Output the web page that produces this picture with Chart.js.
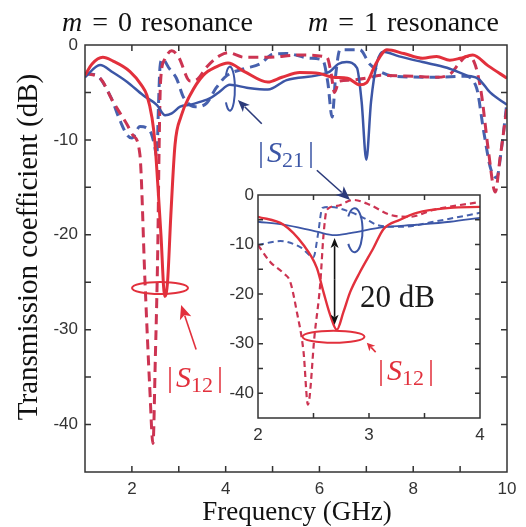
<!DOCTYPE html>
<html>
<head>
<meta charset="utf-8">
<script src="https://cdn.jsdelivr.net/npm/chart.js@4.4.0/dist/chart.umd.min.js"></script>
<style>
html, body { margin:0; padding:0; background:#fff; }
#wrap { position:relative; width:526px; height:527px; }
#mainChart { position:absolute; left:0; top:0; }
#insetChart { position:absolute; left:215px; top:160px; }
</style>
</head>
<body>
<div id="wrap">
  <canvas id="mainChart" width="526" height="527"></canvas>
  <canvas id="insetChart" width="280" height="290"></canvas>
</div>
<script>
// main plot data (1 ~ 10 GHz)
const s12SolidFreq = [1.0, 1.15, 1.38, 1.6, 1.96, 2.2, 2.32, 2.43, 2.49, 2.55, 2.62, 2.7, 2.76, 2.83, 2.92, 3.05, 3.24, 3.52, 3.8, 4.05, 4.4, 4.9, 5.2, 5.58, 6.0, 6.29, 6.6, 6.86, 7.0, 7.2, 7.44, 7.8, 8.2, 8.5, 8.78, 9.0, 9.27, 9.6, 10.0];
const s12SolidDb   = [-3.2, -2.0, -1.3, -1.7, -2.8, -4.2, -5.3, -7.7, -10.2, -14.5, -20, -26.5, -25, -18, -10.5, -7.5, -5.3, -3.2, -2.3, -1.9, -2.8, -3.9, -3.4, -2.9, -3.0, -3.4, -3.5, -4.2, -4.0, -2.0, -0.5, -0.9, -1.4, -1.2, -1.6, -1.4, -1.05, -2.2, -3.5];

const s21SolidFreq = [1.0, 1.32, 1.6, 1.9, 2.24, 2.53, 2.71, 2.85, 3.03, 3.25, 3.45, 3.67, 3.85, 4.09, 4.45, 4.9, 5.3, 5.95, 6.22, 6.4, 6.58, 6.8, 6.9, 7.0, 7.1, 7.23, 7.36, 7.7, 8.2, 8.72, 9.14, 9.4, 9.64, 10.0];
const s21SolidDb   = [-3.4, -2.1, -2.9, -3.9, -5.3, -6.3, -7.4, -7.2, -6.5, -6.3, -6.0, -5.6, -5.0, -4.2, -4.5, -4.7, -3.7, -3.2, -2.8, -2.0, -1.8, -2.4, -6.0, -12.1, -6.0, -1.8, -0.7, -1.2, -1.8, -2.4, -3.2, -3.6, -5.0, -6.3];

const s12DashFreq = [1.0, 1.32, 1.6, 1.9, 2.02, 2.17, 2.28, 2.38, 2.45, 2.5, 2.55, 2.58, 2.61, 2.7, 2.85, 3.0, 3.24, 3.4, 3.6, 3.88, 4.05, 4.4, 4.88, 5.58, 6.16, 6.25, 6.32, 6.42, 6.65, 7.0, 7.3, 8.0, 8.5, 8.8, 9.0, 9.14, 9.3, 9.45, 9.6, 9.75, 9.85, 10.0];
const s12DashDb   = [-3.0, -3.5, -6.0, -8.4, -9.5, -11.5, -25, -36, -42, -33, -22, -11, -4, -1.5, -0.6, -1.3, -3.8, -3.6, -2.3, -1.1, -0.8, -1.3, -1.3, -1.05, -1.3, -3.0, -5.0, -3.8, -3.7, -3.5, -3.2, -3.3, -3.4, -3.0, -1.8, -1.2, -1.8, -5.0, -11, -15.5, -12, -6.5];

const s21DashFreq = [1.0, 1.25, 1.55, 1.75, 1.9, 2.0, 2.17, 2.38, 2.48, 2.53, 2.57, 2.6, 2.65, 2.8, 2.95, 3.1, 3.35, 3.6, 3.8, 4.03, 4.4, 4.73, 5.0, 5.3, 5.8, 6.07, 6.18, 6.27, 6.35, 6.44, 6.86, 7.07, 7.29, 7.6, 8.5, 9.1, 9.35, 9.5, 9.65, 9.78, 9.88, 10.0];
const s21DashDb   = [-3.0, -3.2, -5.5, -8.0, -9.5, -9.8, -8.6, -9.0, -10.5, -11.8, -6, -2.3, -1.5, -2.5, -3.5, -5.5, -6.5, -6.1, -4.5, -3.2, -2.5, -2.0, -1.0, -0.9, -1.4, -1.6, -4.0, -7.6, -3.0, -0.5, -0.5, -2.0, -2.8, -3.3, -3.4, -3.3, -4.5, -9.0, -13, -14, -11, -6.0];

// inset data (2 ~ 4 GHz)
const insetS12SolidFreq = [2.0, 2.23, 2.41, 2.53, 2.59, 2.65, 2.71, 2.77, 2.83, 2.92, 3.04, 3.13, 3.28, 3.43, 3.73, 4.0];
const insetS12SolidDb   = [-4.4, -6.0, -10.1, -14.7, -19.6, -24.2, -27.2, -23.6, -19.6, -15.5, -10.7, -6.9, -5.0, -3.6, -2.6, -2.4];
const insetS21SolidFreq = [2.0, 2.23, 2.53, 2.69, 2.83, 3.13, 3.43, 3.73, 4.0];
const insetS21SolidDb   = [-5.4, -6.0, -7.4, -8.1, -7.7, -6.5, -6.0, -5.4, -4.6];
const insetS12DashFreq = [2.0, 2.11, 2.23, 2.29, 2.35, 2.41, 2.45, 2.51, 2.56, 2.59, 2.62, 2.71, 2.86, 3.01, 3.19, 3.37, 3.58, 4.0];
const insetS12DashDb   = [-10.1, -13.5, -15.8, -17.5, -23.6, -31.6, -42.3, -28.2, -18.1, -8.1, -3.0, -2.2, -1.0, -2.0, -4.0, -4.4, -3.0, -1.4];
const insetS21DashFreq = [2.0, 2.2, 2.38, 2.5, 2.54, 2.58, 2.65, 2.83, 2.95, 3.1, 3.3, 3.58, 4.0];
const insetS21DashDb   = [-10.1, -9.3, -10.5, -12.5, -8, -2.6, -2.4, -3.4, -4.6, -6.2, -6.4, -5.4, -3.6];

// axis ranges
const mainFreqRange = [1, 10];
const insetFreqRange = [2, 4];
const dbRange = [-45, 0];

const RED = '#e2303c';
const RED_DASH = '#cc3452';
const BLUE = '#3c56a6';
const BLUE_DASH = '#4761ae';
const AXIS = '#333';
const SERIF = "'Liberation Serif', 'Times New Roman', serif";
const SANS = "'Liberation Sans', Arial, sans-serif";

function toXY(fs, ds) {
    return fs.map(function(f, i) { return {x: f, y: ds[i]}; });
}

function lineSet(fs, ds, color, width, dash) {
    return {
        data: toXY(fs, ds),
        borderColor: color,
        borderWidth: width,
        borderDash: dash || [],
        pointRadius: 0,
        fill: false,
        cubicInterpolationMode: 'monotone'
    };
}

/**
 * frame + inward ticks
 */
const frameTicks = {
    id: 'frameTicks',
    afterDatasetsDraw(chart, args, opts) {
        const ctx = chart.ctx;
        const a = chart.chartArea;
        const x = chart.scales.x, y = chart.scales.y;
        const len = opts.len;
        ctx.save();
        ctx.strokeStyle = AXIS;
        ctx.lineWidth = 1.5;
        ctx.beginPath();
        x.ticks.forEach(function(t) {
            if (t.value <= x.min || t.value >= x.max) return;
            const px = x.getPixelForValue(t.value);
            ctx.moveTo(px, a.bottom); ctx.lineTo(px, a.bottom - len);
            ctx.moveTo(px, a.top); ctx.lineTo(px, a.top + len);
        });
        y.ticks.forEach(function(t) {
            if (t.value <= y.min || t.value >= y.max) return;
            const py = y.getPixelForValue(t.value);
            ctx.moveTo(a.left, py); ctx.lineTo(a.left + len, py);
            ctx.moveTo(a.right, py); ctx.lineTo(a.right - len, py);
        });
        ctx.stroke();
        ctx.strokeRect(a.left, a.top, a.right - a.left, a.bottom - a.top);
        ctx.restore();
    }
};

function arrow(ctx, x1, y1, x2, y2, color, hl, hw) {
    const ang = Math.atan2(y2 - y1, x2 - x1);
    ctx.save();
    ctx.strokeStyle = color; ctx.fillStyle = color; ctx.lineWidth = 1.6;
    ctx.beginPath();
    ctx.moveTo(x1, y1);
    ctx.lineTo(x2 - Math.cos(ang) * hl * 0.8, y2 - Math.sin(ang) * hl * 0.8);
    ctx.stroke();
    ctx.translate(x2, y2); ctx.rotate(ang);
    ctx.beginPath();
    ctx.moveTo(0, 0); ctx.lineTo(-hl, -hw); ctx.lineTo(-hl * 0.75, 0); ctx.lineTo(-hl, hw);
    ctx.closePath(); ctx.fill();
    ctx.restore();
}

// text pieces drawn one after another
function mathText(ctx, x, base, parts, color) {
    ctx.save();
    ctx.fillStyle = color;
    ctx.textBaseline = 'alphabetic';
    ctx.textAlign = 'left';
    let cx = x;
    parts.forEach(function(p) {
        ctx.font = p.f;
        ctx.fillText(p.t, cx, base + (p.dy || 0));
        cx += ctx.measureText(p.t).width + (p.gap || 0);
    });
    ctx.restore();
}

function absLabel(ctx, x, base, sub, color) {
    mathText(ctx, x, base, [
        {t: '|', f: '30px ' + SERIF, gap: 3},
        {t: 'S', f: 'italic 30px ' + SERIF, gap: 0},
        {t: sub, f: '22px ' + SERIF, dy: 5, gap: 4},
        {t: '|', f: '30px ' + SERIF}
    ], color);
}

// "m = 0 resonance"
function resonanceTitle(ctx, x, base, num) {
    mathText(ctx, x, base, [
        {t: 'm', f: 'italic 28px ' + SERIF, gap: 10},
        {t: '=', f: '28px ' + SERIF, gap: 10},
        {t: num, f: '28px ' + SERIF, gap: 9},
        {t: 'resonance', f: '28px ' + SERIF}
    ], '#111');
}

function hook(ctx, cx, cy, rx, ry, color) {
    ctx.save();
    ctx.strokeStyle = color; ctx.lineWidth = 2;
    ctx.beginPath();
    ctx.ellipse(cx, cy, rx, ry, 0, -Math.PI / 2 - 0.9, Math.PI / 2 + 0.9);
    ctx.stroke();
    ctx.restore();
}

function ring(ctx, cx, cy, rx, ry, color) {
    ctx.save();
    ctx.strokeStyle = color; ctx.lineWidth = 2;
    ctx.beginPath();
    ctx.ellipse(cx, cy, rx, ry, 0, 0, Math.PI * 2);
    ctx.stroke();
    ctx.restore();
}

/**
 * main plot texts and marks
 */
const mainNotes = {
    id: 'mainNotes',
    afterDraw(chart) {
        const ctx = chart.ctx;
        const x = chart.scales.x, y = chart.scales.y;
        const px = function(v) { return x.getPixelForValue(v); };
        const py = function(v) { return y.getPixelForValue(v); };

        // titles
        resonanceTitle(ctx, 62, 31, '0');
        resonanceTitle(ctx, 308, 31, '1');

        // axis titles
        ctx.save();
        ctx.fillStyle = '#111';
        ctx.textAlign = 'center';
        ctx.textBaseline = 'alphabetic';
        ctx.font = '27px ' + SERIF;
        ctx.fillText('Frequency (GHz)', 297, 520);
        ctx.font = '29px ' + SERIF;
        ctx.translate(37, 247);
        ctx.rotate(-Math.PI / 2);
        ctx.fillText('Transmission coefficient (dB)', 0, 0);
        ctx.restore();

        // |S12| ring, arrow, label
        ring(ctx, px(2.6), py(-25.6), 28, 6, RED);
        arrow(ctx, px(3.37), py(-32.1), px(3.05), py(-27.4), RED, 14, 6);
        absLabel(ctx, px(2.75), py(-36.0), '12', RED);

        // |S21| hook, arrow, label
        hook(ctx, px(4.09), py(-4.6), 5, 22, BLUE);
        arrow(ctx, px(4.77), py(-8.3), px(4.26), py(-5.8), '#2b3a7a', 12, 5);
        absLabel(ctx, px(4.69), py(-12.3), '21', BLUE);
    }
};

const insetBg = {
    id: 'insetBg',
    beforeDraw(chart) {
        const a = chart.chartArea;
        chart.ctx.save();
        chart.ctx.fillStyle = '#fff';
        chart.ctx.fillRect(a.left, a.top, a.right - a.left, a.bottom - a.top);
        chart.ctx.restore();
    }
};

/**
 * inset texts and marks
 */
const insetNotes = {
    id: 'insetNotes',
    afterDraw(chart) {
        const ctx = chart.ctx;
        const x = chart.scales.x, y = chart.scales.y;
        const px = function(v) { return x.getPixelForValue(v); };
        const py = function(v) { return y.getPixelForValue(v); };

        // 20 dB double arrow
        arrow(ctx, px(2.69), py(-17), px(2.69), py(-8.7), '#111', 10, 4);
        arrow(ctx, px(2.69), py(-17), px(2.69), py(-26.2), '#111', 10, 4);
        ctx.save();
        ctx.fillStyle = '#1a1a1a';
        ctx.font = '31px ' + SERIF;
        ctx.fillText('20 dB', px(2.92), py(-22.6));
        ctx.restore();

        ring(ctx, px(2.68), py(-28.6), 31, 6, RED);
        arrow(ctx, px(3.06), py(-31.7), px(2.98), py(-29.8), RED, 8, 4);
        absLabel(ctx, px(3.08), py(-37.3), '12', RED);

        hook(ctx, px(2.87), py(-7.1), 8, 22, BLUE);
        // arrow coming from the |S21| label of the main plot
        arrow(ctx, px(2.53), py(5.0), px(2.83), py(-1.0), '#2b3a7a', 14, 6);
    }
};

// main chart
const mainCtx = document.getElementById('mainChart').getContext('2d');
new Chart(mainCtx, {
    type: 'line',
    data: {
        datasets: [
            lineSet(s12SolidFreq, s12SolidDb, RED, 3),
            lineSet(s21SolidFreq, s21SolidDb, BLUE, 2.5),
            lineSet(s12DashFreq, s12DashDb, RED_DASH, 3, [10, 6]),
            lineSet(s21DashFreq, s21DashDb, BLUE_DASH, 3, [10, 6])
        ]
    },
    options: {
        responsive: false,
        animation: false,
        layout: { padding: { left: 0, top: 45, right: 19, bottom: 0 } },
        plugins: {
            legend: { display: false },
            tooltip: { enabled: false },
            frameTicks: { len: 6 }
        },
        scales: {
            x: {
                type: 'linear',
                min: mainFreqRange[0], max: mainFreqRange[1],
                grid: { display: false, drawTicks: false },
                border: { display: false },
                ticks: {
                    stepSize: 1, autoSkip: false, maxRotation: 0, padding: 7,
                    color: AXIS, font: { family: SANS, size: 17 },
                    callback: function(v) { return v % 2 === 0 ? String(v) : ''; }
                },
                afterFit: function(s) { s.height = 55; }
            },
            y: {
                min: dbRange[0], max: dbRange[1],
                grid: { display: false, drawTicks: false },
                border: { display: false },
                ticks: {
                    stepSize: 5, autoSkip: false, padding: 7,
                    color: AXIS, font: { family: SANS, size: 17 },
                    callback: function(v) { return v % 10 === 0 ? String(v) : ''; }
                },
                afterFit: function(s) { s.width = 85; }
            }
        }
    },
    plugins: [frameTicks, mainNotes]
});

// inset chart
const insetCtx = document.getElementById('insetChart').getContext('2d');
new Chart(insetCtx, {
    type: 'line',
    data: {
        datasets: [
            lineSet(insetS12SolidFreq, insetS12SolidDb, RED, 2.4),
            lineSet(insetS21SolidFreq, insetS21SolidDb, BLUE, 1.8),
            lineSet(insetS12DashFreq, insetS12DashDb, RED_DASH, 2.2, [6, 4]),
            lineSet(insetS21DashFreq, insetS21DashDb, BLUE_DASH, 2, [6, 4])
        ]
    },
    options: {
        responsive: false,
        animation: false,
        layout: { padding: { left: 0, top: 35, right: 15, bottom: 0 } },
        plugins: {
            legend: { display: false },
            tooltip: { enabled: false },
            frameTicks: { len: 5 }
        },
        scales: {
            x: {
                type: 'linear',
                min: insetFreqRange[0], max: insetFreqRange[1],
                grid: { display: false, drawTicks: false },
                border: { display: false },
                ticks: {
                    stepSize: 0.5, autoSkip: false, maxRotation: 0, padding: 7,
                    color: AXIS, font: { family: SANS, size: 17 },
                    callback: function(v) { return Number.isInteger(v) ? String(v) : ''; }
                },
                afterFit: function(s) { s.height = 32; }
            },
            y: {
                min: dbRange[0], max: dbRange[1],
                grid: { display: false, drawTicks: false },
                border: { display: false },
                ticks: {
                    stepSize: 5, autoSkip: false, padding: 4,
                    color: AXIS, font: { family: SANS, size: 17 },
                    callback: function(v) { return v % 10 === 0 ? String(v) : ''; }
                },
                afterFit: function(s) { s.width = 43; }
            }
        }
    },
    plugins: [insetBg, frameTicks, insetNotes]
});
</script>
</body>
</html>
